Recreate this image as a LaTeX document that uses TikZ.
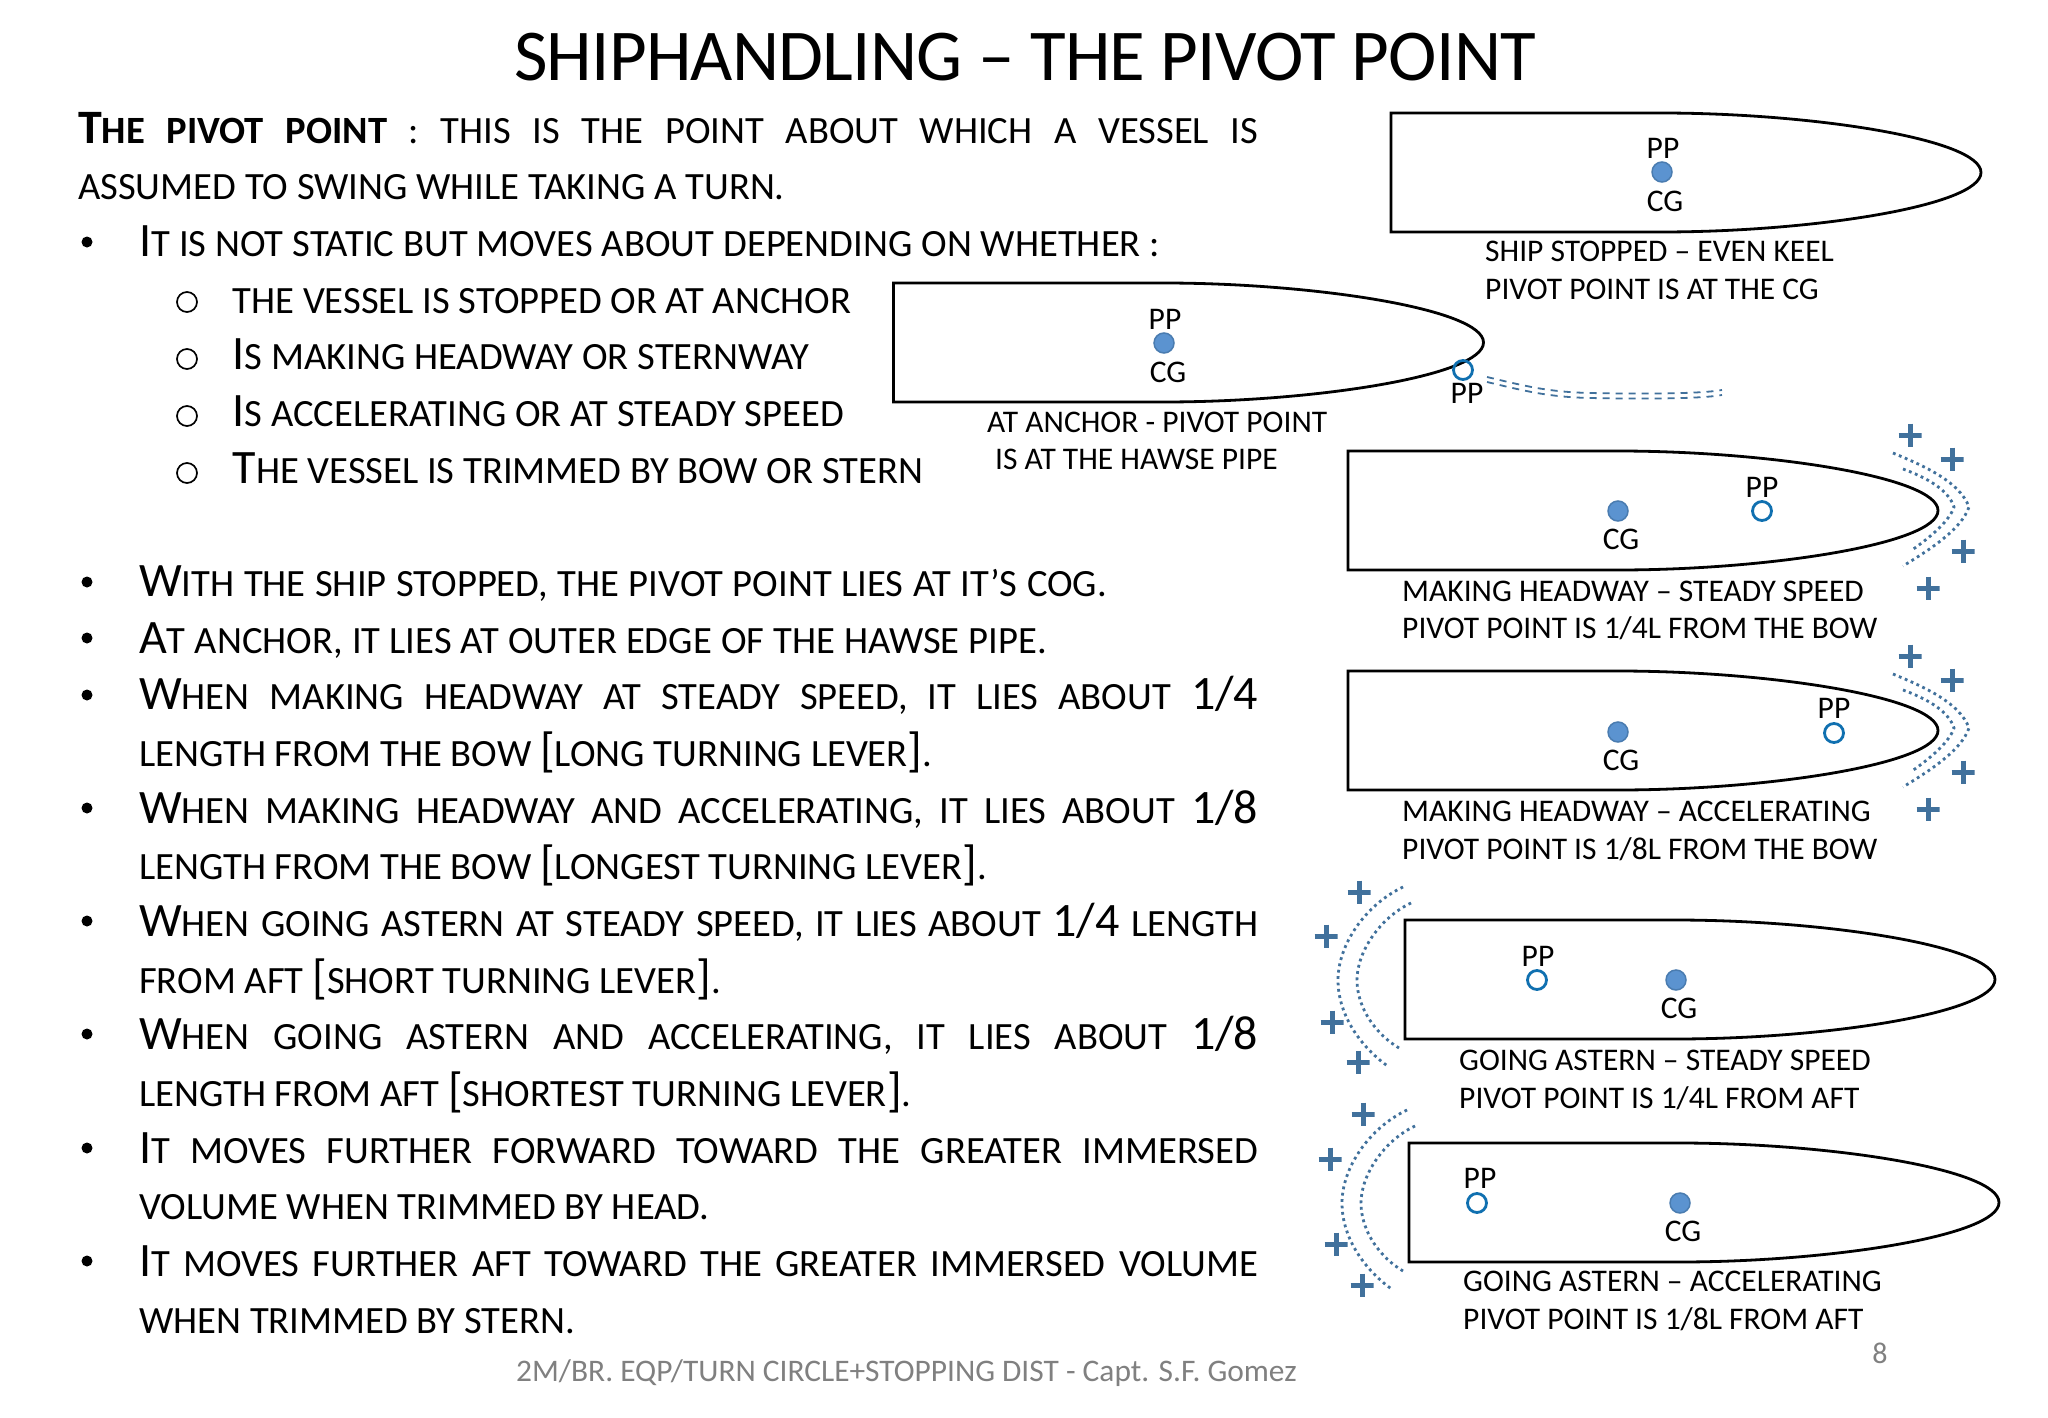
\documentclass[tikz,border=0pt]{standalone}
\usepackage{fontspec}
\setmainfont{Carlito}
\definecolor{dotblue}{HTML}{5B93D0}
\definecolor{dotedge}{HTML}{4A7CB0}
\definecolor{ringblue}{HTML}{1070B0}
\definecolor{plusblue}{HTML}{41719C}
\newcommand\bigc[1]{{\fontsize{48}{48}\selectfont #1}}
\newcommand\bodyf{\fontsize{38.6}{38.6}\selectfont}
\newcommand\bodyline[4]{\node[anchor=base west,inner sep=0pt] (#1) at (#2,#3) {\bodyf #4};}
\newcommand\justline[5]{\node[anchor=base west,inner sep=0pt] (#1) at (#2,#3) {\makebox[#4pt][s]{\bodyf #5}};}
\newcommand\capline[4]{\node[anchor=base west,inner sep=0pt,font=\fontsize{31.5}{31.5}\selectfont] (#1) at (#2,#3) {#4};}
\newcommand\plusmark[3]{\node[plusm] (#1) at (#2,#3) {};}
\tikzset{
 hull/.style={draw=black,line width=2.8pt,line join=miter,fill=white},
 solidpt/.style={circle,draw=dotedge,fill=dotblue,line width=1.5pt,minimum size=20pt,inner sep=0pt},
 hollowpt/.style={circle,draw=ringblue,fill=none,line width=2.8pt,minimum size=19pt,inner sep=0pt},
 lbl/.style={inner sep=0pt,font=\fontsize{31.5}{31.5}\selectfont},
 plusm/.style={inner sep=0pt,minimum size=23pt,
   path picture={\draw[plusblue,line width=5pt] (path picture bounding box.west)--(path picture bounding box.east)
   (path picture bounding box.north)--(path picture bounding box.south);}},
 wavep/.style={plusblue,line width=2.8pt,dash pattern=on 2.8pt off 3.6pt},
 wakep/.style={plusblue,line width=1.8pt,dash pattern=on 7pt off 6pt},
 bull/.style={circle,fill=black,minimum size=11pt,inner sep=0pt},
 subb/.style={circle,draw=black,line width=1.7pt,minimum width=18pt,minimum height=20pt,inner sep=0pt},
}
\newcommand\hull[2]{% left x, top y
 \draw[hull] (#1,#2) -- (#1+270,#2) .. controls (#1+420,#2) and (#1+590,#2+26) .. (#1+590,#2+59.5)
   .. controls (#1+590,#2+93) and (#1+420,#2+119) .. (#1+270,#2+119) -- (#1,#2+119) -- cycle;}
\newcommand\bowwaves[2]{% tip x, mid y
 \draw[wavep] (#1-44,#2-57) .. controls (#1-18,#2-46) and (#1+22,#2-30) .. (#1+32,#2-3) .. controls (#1+24,#2+20) and (#1-8,#2+40) .. (#1-34,#2+56);
 \draw[wavep] (#1-34,#2-41) .. controls (#1-15,#2-34) and (#1+11,#2-22) .. (#1+17,#2-3) .. controls (#1+12,#2+12) and (#1-8,#2+28) .. (#1-25,#2+40);}
\newcommand\sternwaves[2]{% left x, mid y
 \draw[wavep] (#1-2,#2-92) .. controls (#1-40,#2-74) and (#1-67,#2-34) .. (#1-67,#2+1) .. controls (#1-67,#2+38) and (#1-42,#2+70) .. (#1-16,#2+88);
 \draw[wavep] (#1+6,#2-76) .. controls (#1-24,#2-62) and (#1-48,#2-28) .. (#1-48,#2+1) .. controls (#1-48,#2+30) and (#1-28,#2+56) .. (#1-6,#2+69);}
\begin{document}
\begin{tikzpicture}[x=1pt,y=-1pt]
\useasboundingbox (0,0) rectangle (2048,1418);
\fill[white] (0,0) rectangle (2048,1418);
% title
\node[anchor=base,inner sep=0pt,font=\fontsize{73}{73}\selectfont\addfontfeature{LetterSpace=-1.1}] (title) at (1025,81) {SHIPHANDLING – THE PIVOT POINT};
% text
\justline{t1}{78}{143}{1180}{\bfseries\bigc{T}HE PIVOT POINT \mdseries : THIS IS THE POINT ABOUT WHICH A VESSEL IS}
\bodyline{t2}{78}{199.7}{ASSUMED TO SWING WHILE TAKING A TURN.}
\node[bull] (b1) at (87,242) {};
\justline{t3}{139}{256.3}{1021}{\bigc{I}T IS NOT STATIC BUT MOVES ABOUT DEPENDING ON WHETHER :}
\node[subb] (s1) at (187,302) {};
\bodyline{t4}{232.5}{313}{THE VESSEL IS STOPPED OR AT ANCHOR}
\node[subb] (s2) at (187,359) {};
\bodyline{t5}{232.5}{369.7}{\bigc{I}S MAKING HEADWAY OR STERNWAY}
\node[subb] (s3) at (187,416) {};
\bodyline{t6}{232.5}{426.3}{\bigc{I}S ACCELERATING OR AT STEADY SPEED}
\node[subb] (s4) at (187,473) {};
\bodyline{t7}{232.5}{483}{\bigc{T}HE VESSEL IS TRIMMED BY BOW OR STERN}
\node[bull] (b2) at (87,582) {};
\justline{t8}{139}{596.3}{968}{\bigc{W}ITH THE SHIP STOPPED, THE PIVOT POINT LIES AT IT’S COG.}
\node[bull] (b3) at (87,638) {};
\justline{t9}{139}{653}{908}{\bigc{A}T ANCHOR, IT LIES AT OUTER EDGE OF THE HAWSE PIPE.}
\node[bull] (b4) at (87,695) {};
\justline{t10}{139}{709.7}{1119}{\bigc{W}HEN MAKING HEADWAY AT STEADY SPEED, IT LIES ABOUT \bigc{1/4}}
\bodyline{t11}{139}{766.3}{LENGTH FROM THE BOW \bigc{[}LONG TURNING LEVER\bigc{]}.}
\node[bull] (b5) at (87,808) {};
\justline{t12}{139}{823}{1119}{\bigc{W}HEN MAKING HEADWAY AND ACCELERATING, IT LIES ABOUT \bigc{1/8}}
\bodyline{t13}{139}{879.7}{LENGTH FROM THE BOW \bigc{[}LONGEST TURNING LEVER\bigc{]}.}
\node[bull] (b6) at (87,921) {};
\justline{t14}{139}{936.3}{1119}{\bigc{W}HEN GOING ASTERN AT STEADY SPEED, IT LIES ABOUT \bigc{1/4} LENGTH}
\bodyline{t15}{139}{993}{FROM AFT \bigc{[}SHORT TURNING LEVER\bigc{]}.}
\node[bull] (b7) at (87,1034) {};
\justline{t16}{139}{1049.7}{1119}{\bigc{W}HEN GOING ASTERN AND ACCELERATING, IT LIES ABOUT \bigc{1/8}}
\bodyline{t17}{139}{1106.3}{LENGTH FROM AFT \bigc{[}SHORTEST TURNING LEVER\bigc{]}.}
\node[bull] (b8) at (87,1148) {};
\justline{t18}{139}{1163}{1119}{\bigc{I}T MOVES FURTHER FORWARD TOWARD THE GREATER IMMERSED}
\bodyline{t19}{139}{1219.7}{VOLUME WHEN TRIMMED BY HEAD.}
\node[bull] (b9) at (87,1261) {};
\justline{t20}{139}{1276.3}{1119}{\bigc{I}T MOVES FURTHER AFT TOWARD THE GREATER IMMERSED VOLUME}
\bodyline{t21}{139}{1333}{WHEN TRIMMED BY STERN.}
% footer
\node[anchor=base west,inner sep=0pt,text=black!50,font=\fontsize{31.4}{31.4}\selectfont] (foot) at (516,1381) {2M/BR. EQP/TURN CIRCLE+STOPPING DIST - Capt. S.F. Gomez};
\node[anchor=base,inner sep=0pt,text=black!50,font=\fontsize{30}{30}\selectfont] (pg) at (1880,1363) {8};
% ship 1
\hull{1391}{113}
\node[solidpt] (d1) at (1662,172) {};
\node[lbl] (p1) at (1663,148) {PP};
\node[lbl] (c1) at (1665,201) {CG};
\capline{c1a}{1485}{261}{SHIP STOPPED – EVEN KEEL}
\capline{c1b}{1485}{299}{PIVOT POINT IS AT THE CG}
% ship 2
\hull{893.5}{283}
\node[solidpt] (d2) at (1164,343) {};
\node[lbl] (p2) at (1165,319) {PP};
\node[lbl] (c2) at (1168,372) {CG};
\node[hollowpt] (h2) at (1463,370) {};
\node[lbl] (q2) at (1467,393) {PP};
\coordinate (w2s) at (1487,377);
\coordinate (w2e) at (1722,390);
\coordinate (w2b) at (1487,382);
\coordinate (w2f) at (1722,395);
\draw[wakep] (w2s) .. controls (1525,386) and (1548,392) .. (1590,393) .. controls (1640,394) and (1700,394) .. (w2e);
\draw[wakep] (w2b) .. controls (1525,391) and (1548,397) .. (1590,398) .. controls (1640,399) and (1700,399) .. (w2f);
\capline{c2a}{987}{432}{AT ANCHOR - PIVOT POINT}
\capline{c2b}{995}{469}{IS AT THE HAWSE PIPE}
% ship 3
\hull{1348}{451}
\node[solidpt] (d3) at (1618,511) {};
\node[lbl] (l3) at (1621,539) {CG};
\node[hollowpt] (h3) at (1762,511) {};
\node[lbl] (p3) at (1762,487) {PP};
\bowwaves{1937}{510}
\plusmark{a1}{1910}{435}\plusmark{a2}{1952}{459}\plusmark{a3}{1963}{551}\plusmark{a4}{1928}{588}
\capline{c3a}{1402}{601}{MAKING HEADWAY – STEADY SPEED}
\capline{c3b}{1402}{638}{PIVOT POINT IS 1/4L FROM THE BOW}
% ship 4
\hull{1348}{671}
\node[solidpt] (d4) at (1618,732) {};
\node[lbl] (l4) at (1621,760) {CG};
\node[hollowpt] (h4) at (1834,733) {};
\node[lbl] (p4) at (1834,708) {PP};
\bowwaves{1937}{731}
\plusmark{e1}{1910}{656}\plusmark{e2}{1952}{680}\plusmark{e3}{1963}{772}\plusmark{e4}{1928}{809}
\capline{c4a}{1402}{821}{MAKING HEADWAY – ACCELERATING}
\capline{c4b}{1402}{859}{PIVOT POINT IS 1/8L FROM THE BOW}
% ship 5
\hull{1405}{920}
\node[solidpt] (d5) at (1676,980) {};
\node[lbl] (l5) at (1679,1008) {CG};
\node[hollowpt] (h5) at (1537,980) {};
\node[lbl] (p5) at (1538,956) {PP};
\sternwaves{1405}{979}
\plusmark{f1}{1359}{892}\plusmark{f2}{1326}{936}\plusmark{f3}{1332}{1022}\plusmark{f4}{1358}{1062}
\capline{c5a}{1459}{1070}{GOING ASTERN – STEADY SPEED}
\capline{c5b}{1459}{1108}{PIVOT POINT IS 1/4L FROM AFT}
% ship 6
\hull{1409}{1143}
\node[solidpt] (d6) at (1680,1203) {};
\node[lbl] (l6) at (1683,1231) {CG};
\node[hollowpt] (h6) at (1477,1203) {};
\node[lbl] (p6) at (1480,1178) {PP};
\sternwaves{1409}{1202}
\plusmark{g1}{1363}{1114}\plusmark{g2}{1330}{1159}\plusmark{g3}{1336}{1244}\plusmark{g4}{1362}{1285}
\capline{c6a}{1463}{1291}{GOING ASTERN – ACCELERATING}
\capline{c6b}{1463}{1329}{PIVOT POINT IS 1/8L FROM AFT}
\end{tikzpicture}
\end{document}
